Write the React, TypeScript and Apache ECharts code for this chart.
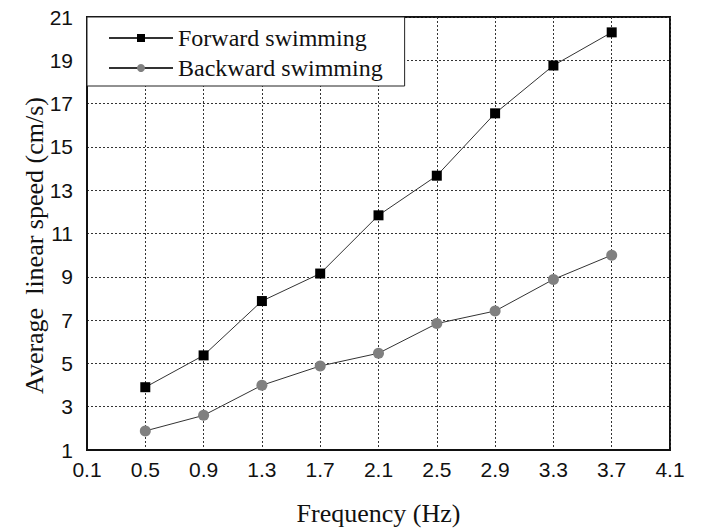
import React, { useEffect, useRef } from "react";
import * as echarts from "echarts";

const frequencies = [0.5, 0.9, 1.3, 1.7, 2.1, 2.5, 2.9, 3.3, 3.7];
const forwardSpeed = [3.9, 5.37, 7.88, 9.15, 11.84, 13.67, 16.55, 18.76, 20.29];
const backwardSpeed = [1.88, 2.6, 3.99, 4.88, 5.47, 6.84, 7.42, 8.88, 10.0];
const seriesNames = ["Forward swimming", "Backward swimming"];
const xAxisTitle = "Frequency (Hz)";
const yAxisTitle = "Average  linear speed (cm/s)";

export default function App() {
  const ref = useRef<HTMLDivElement>(null);
  useEffect(() => {
    if (!ref.current) return;
    const chart = echarts.init(ref.current, null, { renderer: "svg" });
    const serif = "'Liberation Serif', 'Times New Roman', serif";
    const sans = "'Liberation Sans', Arial, sans-serif";
    chart.setOption({
      animation: false,
      backgroundColor: "#ffffff",
      grid: {
        left: 87,
        right: 32,
        top: 17,
        bottom: 80,
        show: true,
        borderColor: "#111",
        borderWidth: 2,
        backgroundColor: "transparent",
      },
      legend: {
        left: 87,
        top: 17,
        orient: "vertical",
        backgroundColor: "#ffffff",
        borderColor: "#222",
        borderWidth: 1,
        borderRadius: 0,
        padding: [9, 22, 6, 21],
        itemGap: 6,
        itemWidth: 64,
        itemHeight: 10,
        textStyle: { fontFamily: serif, fontSize: 24, color: "#111" },
        data: seriesNames,
      },
      xAxis: {
        type: "value",
        min: 0.1,
        max: 4.1,
        interval: 0.4,
        name: xAxisTitle,
        nameLocation: "middle",
        nameGap: 50,
        nameMoveOverlap: false,
        nameTextStyle: { fontFamily: serif, fontSize: 26, color: "#111" },
        axisLine: { show: true, lineStyle: { color: "#111", width: 2 } },
        axisTick: { show: false },
        axisLabel: {
          fontFamily: sans,
          fontSize: 21,
          color: "#111",
          margin: 9,
          formatter: (v: number) => v.toFixed(1),
        },
        splitLine: {
          show: true,
          lineStyle: { color: "#333", width: 1, type: [2, 2] },
        },
      },
      yAxis: {
        type: "value",
        min: 1,
        max: 21,
        interval: 2,
        name: yAxisTitle,
        nameLocation: "middle",
        nameRotate: 90,
        nameGap: 40,
        nameMoveOverlap: false,
        nameTextStyle: {
          fontFamily: serif,
          fontSize: 26,
          color: "#111",
          padding: [0, 24, 0, 0],
        },
        axisLine: { show: true, lineStyle: { color: "#111", width: 2 } },
        axisTick: { show: false },
        axisLabel: { fontFamily: sans, fontSize: 21, color: "#111", margin: 14 },
        splitLine: {
          show: true,
          lineStyle: { color: "#333", width: 1, type: [2, 2] },
        },
      },
      series: [
        {
          name: seriesNames[0],
          type: "line",
          data: frequencies.map((f, i) => [f, forwardSpeed[i]]),
          symbol: "rect",
          symbolSize: 10,
          itemStyle: { color: "#000" },
          lineStyle: { color: "#333", width: 1 },
          z: 5,
        },
        {
          name: seriesNames[1],
          type: "line",
          data: frequencies.map((f, i) => [f, backwardSpeed[i]]),
          symbol: "circle",
          symbolSize: 11,
          itemStyle: { color: "#808080" },
          lineStyle: { color: "#333", width: 1 },
          z: 5,
        },
      ],
    });
    return () => chart.dispose();
  }, []);
  return (
    <div
      ref={ref}
      style={{ position: "absolute", left: 0, top: 0, width: 702, height: 531 }}
    />
  );
}
